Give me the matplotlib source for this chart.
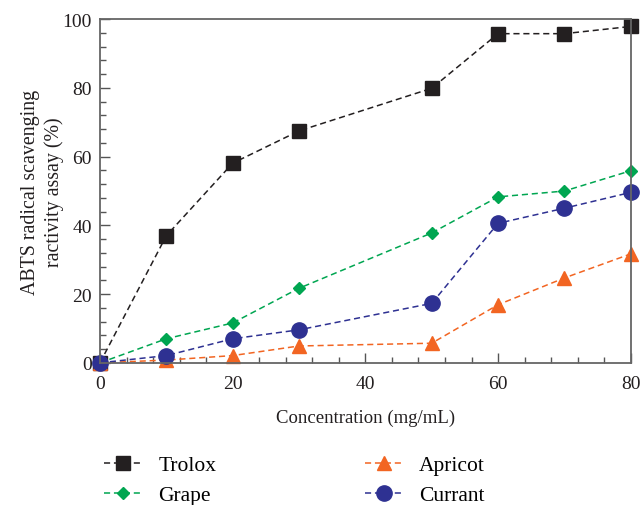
import matplotlib
matplotlib.use("Agg")
import matplotlib.pyplot as plt
from matplotlib.ticker import MultipleLocator, AutoMinorLocator

plt.rcParams['font.family'] = ['Liberation Serif', 'DejaVu Serif']

concentration = [0, 10, 20, 30, 50, 60, 70, 80]
trolox = [0, 37.0, 58.1, 67.5, 79.9, 95.8, 95.8, 97.9]
grape = [0, 7.0, 11.6, 21.7, 37.8, 48.3, 50.0, 55.9]
apricot = [0, 0.8, 2.1, 4.9, 5.7, 16.9, 24.7, 31.7]
currant = [0, 2.1, 7.0, 9.6, 17.3, 40.6, 45.0, 49.6]

series_names = ["Trolox", "Grape", "Apricot", "Currant"]
colors = ["#231f20", "#00a651", "#f26522", "#2e3192"]

fig = plt.figure(figsize=(6.41, 5.06), dpi=100)
ax = fig.add_axes([0.156, 0.281, 0.828, 0.679])

dash = (4, 2.5)
h1, = ax.plot(concentration, trolox, ls=(0, dash), lw=1.1, color=colors[0],
              marker='s', ms=10.5, label=series_names[0])
h2, = ax.plot(concentration, grape, ls=(0, dash), lw=1.1, color=colors[1],
              marker='D', ms=6.5, label=series_names[1])
h3, = ax.plot(concentration, apricot, ls=(0, dash), lw=1.1, color=colors[2],
              marker='^', ms=10.5, label=series_names[2])
h4, = ax.plot(concentration, currant, ls=(0, dash), lw=1.1, color=colors[3],
              marker='o', ms=11, label=series_names[3])

ax.set_xlim(0, 80)
ax.set_ylim(0, 100)
ax.xaxis.set_major_locator(MultipleLocator(20))
ax.yaxis.set_major_locator(MultipleLocator(20))
ax.xaxis.set_minor_locator(AutoMinorLocator(5))
ax.yaxis.set_minor_locator(AutoMinorLocator(5))
ax.tick_params(which='both', direction='in', top=False, right=False,
               color='#555555', labelsize=14, labelcolor='#231f20')
ax.tick_params(which='major', length=7, width=1)
ax.tick_params(which='minor', length=4, width=1)
ax.tick_params(axis='x', pad=9)
ax.tick_params(axis='y', pad=6)
for s in ax.spines.values():
    s.set_color('#666666')
    s.set_linewidth(1.3)

for l in [h1, h2, h3, h4]:
    l.set_clip_on(False)

ax.set_xlabel("Concentration (mg/mL)", fontsize=13.5, color='#231f20', labelpad=12)
ax.set_ylabel("ABTS radical scavenging\nractivity assay (%)", fontsize=14.3,
              color='#231f20', labelpad=-1, linespacing=1.25)

fig.legend(handles=[h1, h2, h3, h4], loc='upper left',
           bbox_to_anchor=(0.163, 0.098), bbox_transform=fig.transFigure,
           ncol=2, frameon=False, fontsize=15.5, handlelength=1.75,
           handletextpad=0.75, columnspacing=6.9, labelspacing=0.45,
           borderaxespad=0, borderpad=0)

fig.savefig("out.png", dpi=100)
